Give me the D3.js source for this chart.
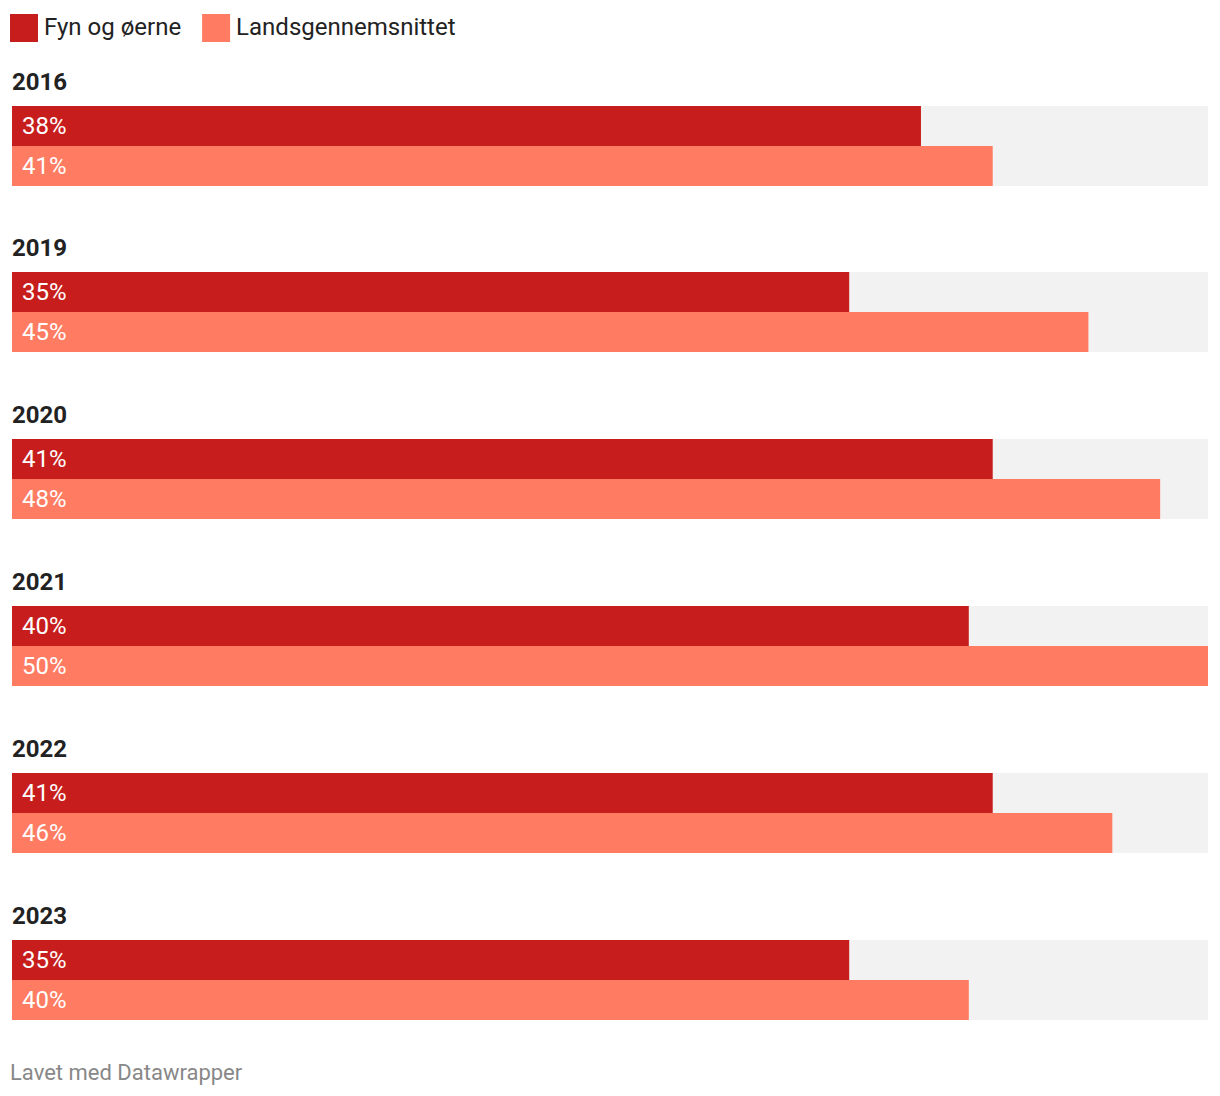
<!DOCTYPE html>
<html><head><meta charset="utf-8">
<script src="https://cdn.jsdelivr.net/npm/d3@7"></script>
<style>
html,body{margin:0;padding:0;background:#fff;}
svg{display:block;font-family:Roboto, "Noto Sans", sans-serif;}
</style></head>
<body>
<svg id="chart" width="1220" height="1096"></svg>
<script>
const years = ["2016","2019","2020","2021","2022","2023"];
const seriesNames = ["Fyn og øerne","Landsgennemsnittet"];
const fyn = [38,35,41,40,41,35];
const lands = [41,45,48,50,46,40];
const colors = ["#c71e1d","#ff7b62"];
const maxValue = 50;

const svg = d3.select("#chart");
const x = d3.scaleLinear().domain([0,maxValue]).range([12,1208]);
const yGroup = d3.scalePoint().domain(years).range([106,940]);
const ySeries = d3.scaleBand().domain(seriesNames).range([0,80]).padding(0);
const color = d3.scaleOrdinal().domain(seriesNames).range(colors);

// legend
let lx = 10;
seriesNames.forEach((n,i)=>{
  const g = svg.append("g");
  g.append("rect").attr("x",lx).attr("y",14).attr("width",28).attr("height",28).attr("fill",color(n));
  const t = g.append("text").attr("x",lx+34).attr("y",35).attr("font-size",24).attr("fill","#222").text(n);
  lx += 34 + t.node().getComputedTextLength() + 21;
});

const rows = years.map((yr,i)=>({year:yr, vals:[fyn[i],lands[i]]}));
const groups = svg.selectAll("g.grp").data(rows).join("g").attr("class","grp")
  .attr("transform",d=>`translate(0,${Math.floor(yGroup(d.year))})`);

groups.append("text").attr("x",12).attr("y",-16).attr("font-size",24).attr("font-weight","bold")
  .attr("fill","#222").text(d=>d.year);

groups.append("rect").attr("x",x(0)).attr("y",0).attr("width",x(maxValue)-x(0))
  .attr("height",ySeries.range()[1]).attr("fill","#f2f2f2");

groups.each(function(d){
  const g = d3.select(this);
  seriesNames.forEach((n,i)=>{
    g.append("rect").attr("x",x(0)).attr("y",ySeries(n))
      .attr("width",x(d.vals[i])-x(0)).attr("height",ySeries.bandwidth()).attr("fill",color(n));
    g.append("text").attr("x",x(0)+10).attr("y",ySeries(n)+ySeries.bandwidth()/2)
      .attr("dy","0.33em").attr("font-size",24).attr("fill","#fff").text(d.vals[i]+"%");
  });
});

svg.append("text").attr("x",10).attr("y",1080).attr("font-size",22).attr("fill","#888")
  .text("Lavet med Datawrapper");
</script>
</body></html>
